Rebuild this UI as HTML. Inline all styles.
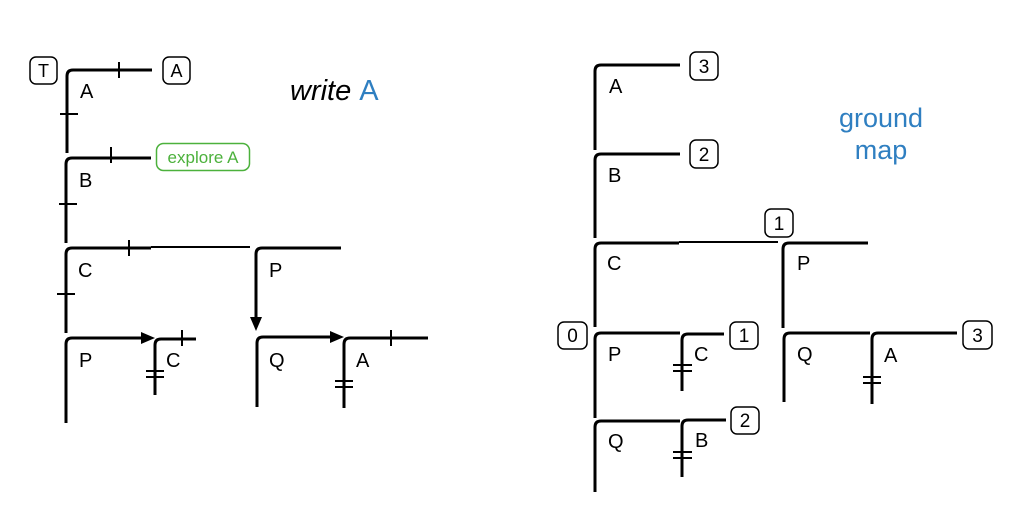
<!DOCTYPE html>
<html><head><meta charset="utf-8"><style>
html,body{margin:0;padding:0;background:#fff;width:1024px;height:520px;overflow:hidden}
svg{display:block}
text{font-family:"Liberation Sans",Arial,sans-serif}
</style></head><body>
<svg width="1024" height="520" viewBox="0 0 1024 520" xmlns="http://www.w3.org/2000/svg">
<g fill="none" stroke="#000" stroke-width="3" stroke-linejoin="round">
<path d="M67,153 V76 Q67,70 73,70 H152"/>
<path d="M66,243 V164 Q66,158 72,158 H151"/>
<path d="M66,333 V254 Q66,248 72,248 H151"/>
<path d="M151,247 H250" stroke-width="2"/>
<path d="M256,318 V254 Q256,248 262,248 H341"/>
<path d="M66,423 V344 Q66,338 72,338 H141"/>
<path d="M155,395 V345 Q155,339 161,339 H196"/>
<path d="M257,407 V343 Q257,337 263,337 H330"/>
<path d="M344,408 V344 Q344,338 350,338 H428"/>
</g>
<g fill="#000">
<path d="M141,332 L155,338 L141,344 z"/>
<path d="M330,331 L344,337 L330,343 z"/>
<path d="M250,317 L256,331 L262,317 z"/>
</g>
<g stroke="#000" stroke-width="2">
<line x1="119" y1="62" x2="119" y2="78"/>
<line x1="60" y1="114" x2="78" y2="114"/>
<line x1="111" y1="147" x2="111" y2="163"/>
<line x1="59" y1="204" x2="77" y2="204"/>
<line x1="129" y1="240" x2="129" y2="256"/>
<line x1="57" y1="294" x2="75" y2="294"/>
<line x1="182" y1="330" x2="182" y2="346"/>
<line x1="146" y1="371" x2="164" y2="371"/>
<line x1="146" y1="377" x2="164" y2="377"/>
<line x1="391" y1="330" x2="391" y2="346"/>
<line x1="335" y1="381" x2="353" y2="381"/>
<line x1="335" y1="387" x2="353" y2="387"/>
</g>
<g fill="none" stroke="#000" stroke-width="1.5">
<rect x="30" y="57" width="27" height="27" rx="6"/>
<rect x="163" y="57" width="27" height="27" rx="6"/>
</g>
<rect x="156.5" y="143.5" width="93" height="27" rx="7" fill="none" stroke="#4cb13c" stroke-width="1.5"/>
<g font-size="20" fill="#000">
<text x="43.5" y="77" text-anchor="middle" font-size="18">T</text>
<text x="176.5" y="77" text-anchor="middle" font-size="18">A</text>
<text x="80" y="98">A</text>
<text x="79" y="187">B</text>
<text x="78" y="277">C</text>
<text x="269" y="277">P</text>
<text x="79" y="367">P</text>
<text x="166" y="367">C</text>
<text x="269" y="367">Q</text>
<text x="356" y="367">A</text>
</g>
<text x="203" y="163" text-anchor="middle" font-size="17" fill="#4cb13c">explore A</text>
<text x="290" y="100" font-size="29" font-style="italic" fill="#000">write <tspan fill="#2f7fc1" font-style="normal">A</tspan></text>

<g fill="none" stroke="#000" stroke-width="3" stroke-linejoin="round">
<path d="M595,150 V71 Q595,65 601,65 H680"/>
<path d="M595,238 V160 Q595,154 601,154 H680"/>
<path d="M595,327 V249 Q595,243 601,243 H679"/>
<path d="M679,242 H778" stroke-width="2"/>
<path d="M783,328 V249 Q783,243 789,243 H868"/>
<path d="M595,418 V339 Q595,333 601,333 H680"/>
<path d="M682,391 V340 Q682,334 688,334 H724"/>
<path d="M595,492 V427 Q595,421 601,421 H680"/>
<path d="M682,477 V426 Q682,420 688,420 H726"/>
<path d="M784,402 V339 Q784,333 790,333 H870"/>
<path d="M872,404 V339 Q872,333 878,333 H957"/>
</g>
<g stroke="#000" stroke-width="2">
<line x1="673" y1="365" x2="692" y2="365"/>
<line x1="673" y1="371" x2="692" y2="371"/>
<line x1="673" y1="452" x2="692" y2="452"/>
<line x1="673" y1="458" x2="692" y2="458"/>
<line x1="863" y1="377" x2="881" y2="377"/>
<line x1="863" y1="383" x2="881" y2="383"/>
</g>
<g fill="none" stroke="#000" stroke-width="1.5">
<rect x="690" y="52" width="28" height="28" rx="6"/>
<rect x="690" y="140" width="28" height="28" rx="6"/>
<rect x="765" y="209" width="28" height="28" rx="6"/>
<rect x="558" y="322" width="29" height="27" rx="6"/>
<rect x="730" y="322" width="28" height="27" rx="6"/>
<rect x="731" y="407" width="28" height="27" rx="6"/>
<rect x="963" y="321" width="29" height="28" rx="6"/>
</g>
<g font-size="19" fill="#000" text-anchor="middle">
<text x="704" y="73">3</text>
<text x="704" y="161">2</text>
<text x="779" y="230">1</text>
<text x="572.5" y="342">0</text>
<text x="744" y="342">1</text>
<text x="745" y="427">2</text>
<text x="977.5" y="342">3</text>
</g>
<g font-size="20" fill="#000">
<text x="609" y="93">A</text>
<text x="608" y="182">B</text>
<text x="607" y="270">C</text>
<text x="797" y="270">P</text>
<text x="608" y="361">P</text>
<text x="694" y="361">C</text>
<text x="608" y="448">Q</text>
<text x="695" y="447">B</text>
<text x="797" y="361">Q</text>
<text x="884" y="362">A</text>
</g>
<g font-size="27" fill="#2f7fc1" text-anchor="middle">
<text x="881" y="127">ground</text>
<text x="881" y="159">map</text>
</g>
</svg>
</body></html>
